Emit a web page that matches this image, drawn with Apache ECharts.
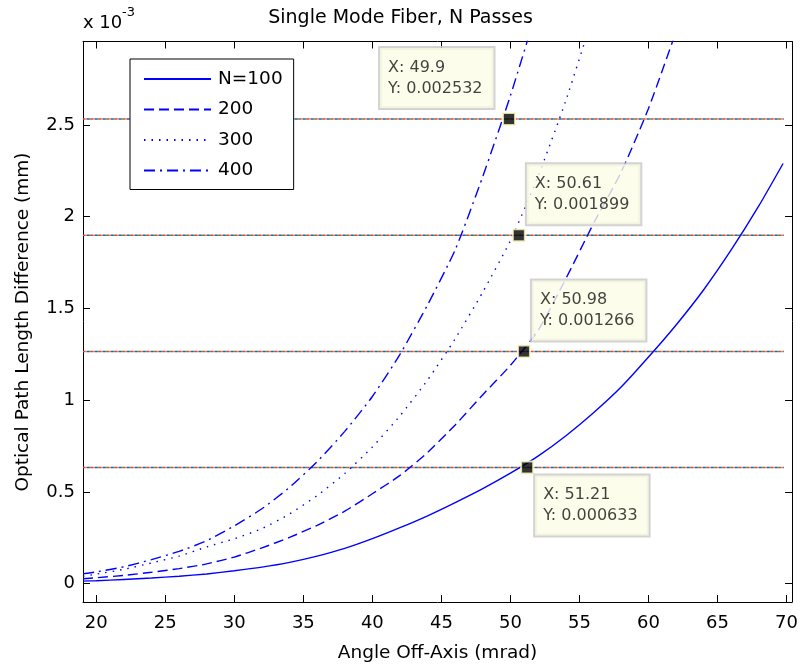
<!DOCTYPE html>
<html>
<head>
<meta charset="utf-8">
<script src="https://cdn.jsdelivr.net/npm/echarts@6/dist/echarts.min.js"></script>
<style>
html,body{margin:0;padding:0;background:#fff;}
#chart{width:801px;height:668px;}
</style>
</head>
<body>
<div id="chart"></div>
<script>
// ---- data (y values in units of 1e-3 mm) ----
const angles = [19.04, 20, 22, 24, 26, 28, 30, 32, 34, 36, 38, 40, 42, 44, 46, 48, 50, 52, 54, 56, 58, 60, 62, 64, 66, 68, 69.75];
const n100 = [0.014, 0.016, 0.023, 0.031, 0.040, 0.053, 0.070, 0.090, 0.116, 0.150, 0.192, 0.245, 0.305, 0.370, 0.442, 0.518, 0.602, 0.695, 0.805, 0.930, 1.070, 1.235, 1.410, 1.602, 1.820, 2.060, 2.290];
const n200 = [0.027, 0.032, 0.045, 0.062, 0.082, 0.108, 0.145, 0.195, 0.252, 0.318, 0.395, 0.490, 0.590, 0.715, 0.865, 1.030, 1.190, 1.380, 1.660, 1.960, 2.240, 2.590, 3.010, null, null, null, null];
const n300 = [0.040, 0.052, 0.078, 0.113, 0.150, 0.200, 0.245, 0.300, 0.380, 0.480, 0.600, 0.745, 0.915, 1.110, 1.335, 1.590, 1.870, 2.220, 2.630, 3.100, null, null, null, null, null, null, null];
const n400 = [0.054, 0.064, 0.092, 0.131, 0.176, 0.234, 0.315, 0.408, 0.525, 0.665, 0.830, 1.020, 1.250, 1.520, 1.820, 2.220, 2.660, 3.150, null, null, null, null, null, null, null, null, null];
const seriesNames = ['N=100', '200', '300', '400'];
const levels = [0.633, 1.266, 1.899, 2.532];
const levelSpan = [19.04, 69.8];
const tipX = [49.9, 50.61, 50.98, 51.21];
const tipY = [0.002532, 0.001899, 0.001266, 0.000633];
const xTicks = [20, 25, 30, 35, 40, 45, 50, 55, 60, 65, 70];
const yTicks = [0, 0.5, 1, 1.5, 2, 2.5];

// ---- styling ----
const FONT = 'DejaVu Sans';
const BLUE = '#0000ff';
const dashStyles = ['solid', [10, 5], [1.5, 6], [11, 5, 2, 5]];
const levelColors = ['#ff3070', '#20b040', '#4040ff', '#d8a000'];
const tipOffsets = [[-122, -64], [15, -64], [15, -64], [15, 15]];

const chart = echarts.init(document.getElementById('chart'), null, {renderer: 'canvas'});

const series = [];
// horizontal multicolour reference lines
levels.forEach(function (lv) {
  levelColors.forEach(function (c, k) {
    series.push({
      type: 'line', silent: true, symbol: 'none', z: 1,
      data: [[levelSpan[0], lv], [levelSpan[1], lv]],
      lineStyle: {color: c, width: 1.5, type: [2, 6], dashOffset: k * 2}
    });
  });
});
// curves
[n100, n200, n300, n400].forEach(function (arr, i) {
  series.push({
    name: seriesNames[i], type: 'line', symbol: 'none', showSymbol: false, smooth: 0.2, z: 3,
    data: angles.map(function (a, j) { return [a, arr[j]]; }),
    lineStyle: {color: BLUE, width: 1.4, type: dashStyles[i]},
    itemStyle: {color: BLUE}
  });
});
// data tips
series.push({
  type: 'scatter', z: 10, symbol: 'rect', symbolSize: 12,
  itemStyle: {color: '#000', borderColor: '#fffcc8', borderWidth: 2},
  data: tipX.map(function (x, i) {
    return {
      value: [x, tipY[i] * 1000],
      label: {
        show: true, position: tipOffsets[i],
        formatter: 'X: ' + x + '\nY: ' + tipY[i].toFixed(6),
        fontFamily: FONT, fontSize: 16, lineHeight: 21, color: '#111',
        backgroundColor: '#fdfde6', borderColor: '#c8c8c8', borderWidth: 2,
        padding: [9, 11, 9, 8], align: 'left', verticalAlign: 'top'
      }
    };
  })
});

const axisCommon = {
  axisLine: {show: true, onZero: false, lineStyle: {color: '#000', width: 1}},
  splitLine: {show: false}
};

chart.setOption({
  animation: false,
  backgroundColor: '#fff',
  title: {
    text: 'Single Mode Fiber, N Passes', left: 'center', top: 4,
    textStyle: {fontFamily: FONT, fontSize: 19, fontWeight: 'normal', color: '#000'}
  },
  grid: {left: 83, right: 4, top: 41.5, bottom: 62.5, containLabel: false},
  legend: {
    data: seriesNames, orient: 'vertical', left: 130, top: 59,
    backgroundColor: '#fff', borderColor: '#000', borderWidth: 1,
    padding: [10, 11, 9, 13], itemWidth: 67, itemHeight: 14, itemGap: 10.5,
    itemStyle: {color: 'transparent', borderWidth: 0, opacity: 0},
    textStyle: {fontFamily: FONT, fontSize: 18.5, color: '#000', lineHeight: 20, padding: [0, 0, 0, 2]}
  },
  xAxis: [
    Object.assign({
      type: 'value', min: 19.04, max: 70.4, position: 'bottom',
      axisTick: {show: true, inside: true, length: 7, customValues: xTicks, lineStyle: {color: '#000'}},
      axisLabel: {show: true, customValues: xTicks, margin: 12, fontFamily: FONT, fontSize: 18, color: '#000'},
      name: 'Angle Off-Axis (mrad)', nameLocation: 'middle', nameGap: 42,
      nameTextStyle: {fontFamily: FONT, fontSize: 18.5, color: '#000'}
    }, axisCommon),
    Object.assign({
      type: 'value', min: 19.04, max: 70.4, position: 'top',
      axisTick: {show: true, inside: true, length: 7, customValues: xTicks, lineStyle: {color: '#000'}},
      axisLabel: {show: false}
    }, axisCommon)
  ],
  yAxis: [
    Object.assign({
      type: 'value', min: -0.1, max: 2.955, position: 'left',
      axisTick: {show: true, inside: true, length: 7, customValues: yTicks, lineStyle: {color: '#000'}},
      axisLabel: {show: true, customValues: yTicks, margin: 8, fontFamily: FONT, fontSize: 18, color: '#000'}
    }, axisCommon),
    Object.assign({
      type: 'value', min: -0.1, max: 2.955, position: 'right',
      axisTick: {show: true, inside: true, length: 7, customValues: yTicks, lineStyle: {color: '#000'}},
      axisLabel: {show: false}
    }, axisCommon)
  ],
  graphic: [
    {
      type: 'text', left: 83, top: 14,
      style: {text: 'x 10', fontFamily: FONT, fontSize: 18, fill: '#000'}
    },
    {
      type: 'text', left: 122, top: 6,
      style: {text: '-3', fontFamily: FONT, fontSize: 13, fill: '#000'}
    },
    {
      type: 'text', x: 23, y: 322, rotation: Math.PI / 2,
      style: {text: 'Optical Path Length Difference (mm)', fontFamily: FONT, fontSize: 18.5, fill: '#000', align: 'center', verticalAlign: 'middle'}
    }
  ],
  series: series
});
</script>
</body>
</html>
